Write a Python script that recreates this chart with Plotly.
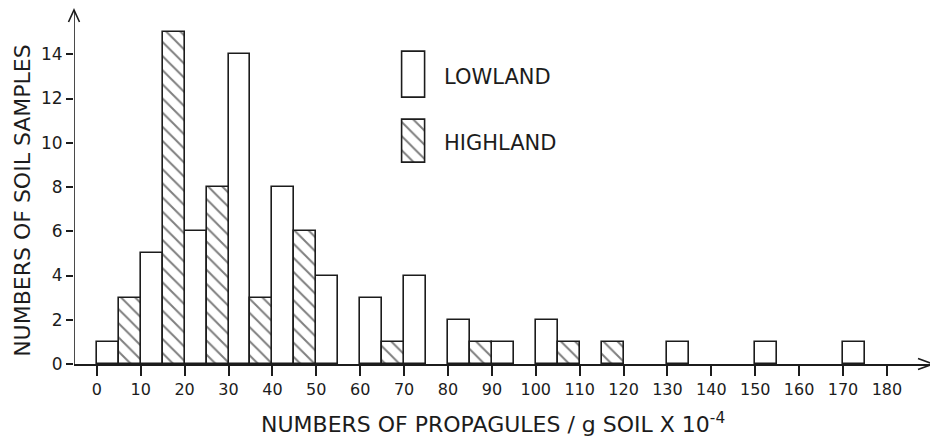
import plotly.graph_objects as go

# ---- data (bin start of each 5-unit class, counts) ----
lowland_start = [0, 10, 20, 30, 40, 50, 60, 70, 80, 90, 100, 130, 150, 170]
lowland_count = [1, 5, 6, 14, 8, 4, 3, 4, 2, 1, 2, 1, 1, 1]
highland_start = [5, 15, 25, 35, 45, 65, 85, 105, 115]
highland_count = [3, 15, 8, 3, 6, 1, 1, 1, 1]
bin_width = 5
x_ticks = list(range(0, 181, 10))
y_ticks = list(range(0, 15, 2))

INK = "#1c1c1c"
FONT = "DejaVu Sans"
hatch = dict(shape="\\", size=10, solidity=0.2, fgcolor="#000000", bgcolor="white")

fig = go.Figure()
fig.add_trace(go.Bar(
    x=[s + bin_width / 2 for s in lowland_start], y=lowland_count, width=bin_width,
    marker=dict(color="white", line=dict(color=INK, width=1.6)),
    name="LOWLAND", showlegend=False))
fig.add_trace(go.Bar(
    x=[s + bin_width / 2 for s in highland_start], y=highland_count, width=bin_width,
    marker=dict(color="white", pattern=hatch, line=dict(color=INK, width=1.6)),
    name="HIGHLAND", showlegend=False))

# custom legend boxes (tall rectangles) on an auxiliary axis (padded ranges)
fig.add_trace(go.Bar(x=[0], y=[46], base=[65], width=[1], xaxis="x2", yaxis="y2",
                     cliponaxis=False,
                     marker=dict(color="white", line=dict(color=INK, width=1.6)),
                     showlegend=False, hoverinfo="skip"))
fig.add_trace(go.Bar(x=[0], y=[43], base=[0], width=[1], xaxis="x2", yaxis="y2",
                     cliponaxis=False,
                     marker=dict(color="white", pattern=hatch, line=dict(color=INK, width=1.6)),
                     showlegend=False, hoverinfo="skip"))

OFF = 8  # page body margin
W, H = 930, 429
L, R, T, B = 66, 5, 2, 72.7
pw, ph = W - L - R, H - T - B


def px(xp):
    return (xp - OFF - L) / pw


def py(yp):
    return (H - B - (yp - OFF)) / ph


fig.update_layout(
    width=W, height=H, margin=dict(l=L, r=R, t=T, b=B),
    paper_bgcolor="white", plot_bgcolor="white", barmode="overlay", bargap=0,
    font=dict(family=FONT, color=INK),
    xaxis=dict(range=[-5.2, 190.5], tickvals=x_ticks, ticktext=[str(v) for v in x_ticks],
               showgrid=False, zeroline=False, showline=True, linecolor=INK, linewidth=1.6,
               ticks="outside", ticklen=10, tickwidth=1.6, tickcolor=INK,
               tickfont=dict(size=16, family=FONT, color=INK)),
    yaxis=dict(range=[0, 16], tickvals=y_ticks, ticktext=[str(v) for v in y_ticks],
               showgrid=False, zeroline=False, showline=False,
               ticks="outside", ticklen=7, tickwidth=1.6, tickcolor=INK,
               tickfont=dict(size=17, family=FONT, color=INK)),
    # box is 23 px wide (1 unit) and 111 px tall (111 units); ranges padded
    xaxis2=dict(domain=[px(402 - 4.6), px(425 + 4.6)], range=[-0.7, 0.7],
                visible=False, anchor="y2"),
    yaxis2=dict(domain=[py(163 + 5), py(52 - 5)], range=[-5, 116], visible=False, anchor="x2"),
)

# y axis line with arrow
fig.add_shape(type="line", xref="x", yref="paper", x0=-5.2, x1=-5.2, y0=0, y1=1,
              line=dict(color=INK, width=1.6))
fig.add_shape(type="path", xref="paper", yref="paper",
              path=f"M {px(68.5)} {py(22)} L {px(74)} {py(10)} L {px(79.5)} {py(22)}",
              line=dict(color=INK, width=1.6))
# x axis arrow head
fig.add_shape(type="path", xref="paper", yref="paper",
              path=f"M {px(918)} {py(358.8)} L {px(933)} {py(364.3)} L {px(918)} {py(369.8)}",
              line=dict(color=INK, width=1.6))

# axis titles
fig.add_annotation(xref="paper", yref="paper", x=px(493), y=py(423), showarrow=False,
                   xanchor="center", yanchor="middle",
                   text="NUMBERS OF PROPAGULES / g SOIL X 10<sup>-4</sup>",
                   font=dict(size=22, family=FONT, color=INK))
fig.add_annotation(xref="paper", yref="paper", x=px(23), y=py(201), showarrow=False,
                   xanchor="center", yanchor="middle",
                   text="NUMBERS OF SOIL SAMPLES", textangle=-90,
                   font=dict(size=22, family=FONT, color=INK))
# legend labels
fig.add_annotation(xref="paper", yref="paper", x=px(442), y=py(77), showarrow=False,
                   xanchor="left", yanchor="middle", text="LOWLAND",
                   font=dict(size=21, family=FONT, color=INK))
fig.add_annotation(xref="paper", yref="paper", x=px(442), y=py(143), showarrow=False,
                   xanchor="left", yanchor="middle", text="HIGHLAND",
                   font=dict(size=21, family=FONT, color=INK))

fig.write_html("out.html")
